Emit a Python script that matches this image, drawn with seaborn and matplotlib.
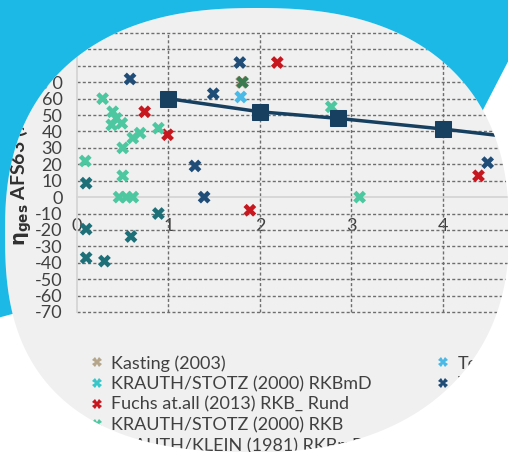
import numpy as np
import pandas as pd
import seaborn as sns
import matplotlib.pyplot as plt
from matplotlib.path import Path
from matplotlib.patches import PathPatch, Polygon
from matplotlib.lines import Line2D

# values (x = ratio, y = eta_ges AFS63 in %)
kasting_x = [1.80]
kasting_y = [70]
stotz_rkbmd_x = []
stotz_rkbmd_y = []
fuchs_x = [0.74, 0.99, 2.19, 1.89, 4.39]
fuchs_y = [52, 38, 82, -8, 13]
stotz_rkb_x = [0.28, 0.39, 0.38, 0.49, 0.43, 0.50, 0.61, 0.69, 0.89, 2.78, 0.09, 0.50, 0.46, 0.54, 0.61, 3.09]
stotz_rkb_y = [60, 52, 44, 45, 48, 30, 36, 39, 42, 55, 22, 13, 0, 0, 0, 0]
klein_x = [0.10, 0.10, 0.10, 0.30, 0.59, 0.89]
klein_y = [8.5, -19.5, -37, -39, -24, -10]
te_x = [1.79]
te_y = [61]
navy_x = [0.58, 1.78, 1.49, 1.29, 1.39, 4.49]
navy_y = [72, 82, 63, 19, 0, 21]
green_x = [1.81]
green_y = [70]
model_x = [1, 2, 2.85, 4, 5]
model_y = [60, 52, 48, 41.5, 35]

labels = ["Kasting (2003)", "KRAUTH/STOTZ (2000) RKBmD", "Fuchs at.all (2013) RKB_ Rund",
          "KRAUTH/STOTZ (2000) RKB", "KRAUTH/KLEIN (1981) RKBmD",
          "Te", "Versuch", "Versuch 2", "Modell"]
colors = ["#b5a68b", "#38c6c9", "#c8161e", "#4cc7a0", "#1d6f78",
          "#4ab9e6", "#1f4d78", "#3b7a4f", "#173f5f"]

xs = [kasting_x, stotz_rkbmd_x, fuchs_x, stotz_rkb_x, klein_x, te_x, navy_x, green_x]
ys = [kasting_y, stotz_rkbmd_y, fuchs_y, stotz_rkb_y, klein_y, te_y, navy_y, green_y]
df = pd.concat([pd.DataFrame({"x": x, "y": y, "src": lab})
                for x, y, lab in zip(xs, ys, labels)], ignore_index=True)

sns.set_style("white")
plt.rcParams["font.family"] = ["Lato", "DejaVu Sans"]
plt.rcParams["axes.unicode_minus"] = False

fig = plt.figure(figsize=(5.08, 4.55), dpi=100, facecolor="#f0f0f0")
ax = fig.add_axes([77 / 508, 1 - 312 / 455, 439 / 508, 279 / 455])
ax.set_facecolor("none")

grid = dict(color="#6e6e6e", lw=1.0, ls=(0, (2.2, 1.6)), zorder=1, clip_on=False)
for yv in range(-70, 101, 10):
    if yv != 0:
        ax.axhline(yv, **grid)
for xv in [1, 2, 3, 4]:
    ax.axvline(xv, **grid)

sns.scatterplot(data=df, x="x", y="y", hue="src", palette=dict(zip(labels, colors)),
                marker="X", s=85, linewidth=0, legend=False, ax=ax, zorder=4)
sns.lineplot(x=model_x, y=model_y, marker="s", markersize=11, color="#173f5f",
             mec="#173f5f", lw=2.5, ax=ax, zorder=5)

ax.set_xlim(0, 4.8)
ax.set_ylim(-70, 100)
ax.set_xticks([0, 1, 2, 3, 4])
ax.set_yticks(range(-70, 101, 10))
ax.set_xlabel("")
ax.spines["bottom"].set_position(("data", 0))
for s in ["top", "right"]:
    ax.spines[s].set_visible(False)
for s in ["left", "bottom"]:
    ax.spines[s].set_color("#d5d5d5")
    ax.spines[s].set_linewidth(1.3)
ax.tick_params(length=0, labelsize=13, labelcolor="#404040")
ax.tick_params(axis="y", pad=10.5)
ax.tick_params(axis="x", pad=15)
ax.set_ylabel(r"$\mathbf{\eta}_{\mathbf{ges}}$ AFS63 (%)", fontsize=14,
              fontweight="bold", color="#303030", ha="left")
ax.yaxis.set_label_coords(-0.097, (312 - 246) / 279)

handles = [Line2D([], [], ls="", marker="X", markersize=7, color=c, mew=0) for c in colors[:8]]
handles.append(Line2D([], [], marker="s", markersize=7, color=colors[8], lw=2))
fig.legend(handles, labels, ncol=2, loc="upper left", bbox_to_anchor=(88 / 508, 1 - 355 / 455),
           frameon=False, fontsize=13, handlelength=1.0, handletextpad=0.3,
           columnspacing=3.45, labelspacing=0.25, borderpad=0, borderaxespad=0,
           labelcolor="#404040")

# round cut-out of the slide: white outside, cyan band top/left
ov = fig.add_axes([0, 0, 1, 1], zorder=10)
ov.set_xlim(0, 508)
ov.set_ylim(455, 0)
ov.axis("off")
t = np.linspace(0, 2 * np.pi, 800, endpoint=False)
c, s = np.cos(t), np.sin(t)
expo = np.where(s > 0, np.where(c < 0, 2.6, 2.25), 2.4)
px = 257 + 252 * np.sign(c) * np.abs(c) ** (2 / expo)
py = 232 + np.where(s > 0, 220, 224) * np.sign(s) * np.abs(s) ** (2 / expo)
shape = np.column_stack([px, py])
outer = np.array([[-50, -50], [560, -50], [560, 520], [-50, 520]], float)


def area(p):
    return 0.5 * np.sum(p[:, 0] * np.roll(p[:, 1], -1) - np.roll(p[:, 0], -1) * p[:, 1])


hole = shape if np.sign(area(shape)) != np.sign(area(outer)) else shape[::-1]
verts = np.vstack([outer, outer[:1], hole, hole[:1]])
codes = ([Path.MOVETO] + [Path.LINETO] * 3 + [Path.CLOSEPOLY]
         + [Path.MOVETO] + [Path.LINETO] * (len(hole) - 1) + [Path.CLOSEPOLY])
mask = PathPatch(Path(verts, codes), fc="white", ec="none")
ov.add_patch(mask)
band = Polygon([[-10, -10], [545, -10], [470, 135], [250, 250], [-10, 320]],
               closed=True, fc="#1cb8e6", ec="none")
ov.add_patch(band)
band.set_clip_path(mask)

fig.savefig("out.png", dpi=100)
